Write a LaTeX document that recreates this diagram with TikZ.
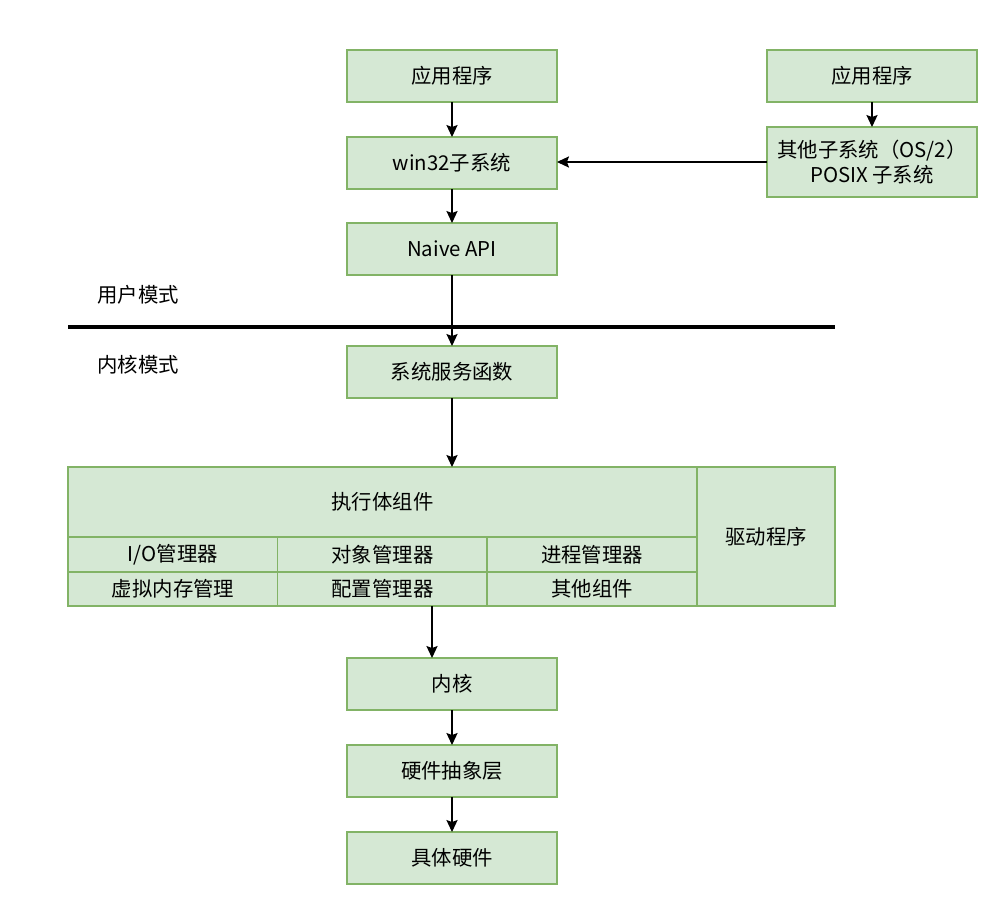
\documentclass[tikz,border=0pt]{standalone}
\usepackage{fontspec}
\setmainfont{Noto Sans CJK SC}
\usetikzlibrary{positioning, arrows.meta}
\definecolor{boxFill}{HTML}{D5E8D4}
\definecolor{boxLine}{HTML}{82B366}

\begin{document}
\begin{tikzpicture}[
        box/.style={
            rectangle,
            draw=boxLine,
            line width=0.8pt,
            fill=boxFill,
            align=center,
            inner sep=0pt,
            outer sep=0pt,
            minimum width=5.25cm,
            minimum height=1.3cm,
            font=\fontsize{14.5}{17.5}\selectfont
        },
        cell/.style={box, minimum width=5.25cm, minimum height=0.86cm},
        arrow/.style={-{Stealth[length=3mm, width=2.8mm, inset=0.5mm]}, line width=0.8pt, black},
        mode/.style={font=\fontsize{14.5}{17.5}\selectfont},
        node distance=0.875cm and 5.25cm
    ]
    \useasboundingbox (0,0) rectangle (25,-22.6);

    % 用户层
    \node[box] (app) at (11.3,-1.9) {应用程序};
    \node[box, below=of app] (win32) {win32子系统};
    \node[box, below=0.85cm of win32] (naive) {Naive API};
    \node[box] (app2) at (21.8,-1.9) {应用程序};
    \node[box, minimum height=1.75cm] (other) at (21.8,-4.05) {其他子系统（OS/2）\\POSIX 子系统};

    % 模式分界
    \coordinate (sepL) at (1.7,-8.175);
    \coordinate (sepR) at (20.875,-8.175);
    \draw[line width=3.5pt] (sepL) -- (sepR);
    \node[mode] (user) at (3.45,-7.375) {用户模式};
    \node[mode] (kmode) at (3.45,-9.125) {内核模式};

    % 内核层
    \node[box] (sys) at (11.3,-9.3) {系统服务函数};
    \node[box, minimum width=15.725cm, minimum height=1.75cm] (exec) at (9.5625,-12.55) {执行体组件};
    \node[cell, minimum height=0.875cm] (io) at (4.325,-13.8625) {I/O管理器};
    \node[cell, minimum height=0.875cm] (obj) at (9.5625,-13.8625) {对象管理器};
    \node[cell, minimum height=0.875cm] (proc) at (14.8,-13.8625) {进程管理器};
    \node[cell, minimum height=0.85cm] (vm) at (4.325,-14.725) {虚拟内存管理};
    \node[cell, minimum height=0.85cm] (cfg) at (9.5625,-14.725) {配置管理器};
    \node[cell, minimum height=0.85cm] (misc) at (14.8,-14.725) {其他组件};
    \node[box, minimum width=3.45cm, minimum height=3.475cm] (drv) at (19.15,-13.4125) {驱动程序};

    \node[box] (kernel) at (11.3,-17.1) {内核};
    \node[box, below=of kernel] (hal) {硬件抽象层};
    \node[box, below=of hal] (hw) {具体硬件};

    % 箭头
    \draw[arrow] (app) -- (win32);
    \draw[arrow] (app2) -- (other);
    \draw[arrow] (other) -- (other -| win32.east);
    \draw[arrow] (win32) -- (naive);
    \draw[arrow] (naive) -- (sys);
    \draw[arrow] (sys) -- (sys |- exec.north);
    \draw[arrow] ([xshift=1.2375cm]cfg.south) -- ([xshift=1.2375cm]cfg.south |- kernel.north);
    \draw[arrow] (kernel) -- (hal);
    \draw[arrow] (hal) -- (hw);

\end{tikzpicture}
\end{document}
